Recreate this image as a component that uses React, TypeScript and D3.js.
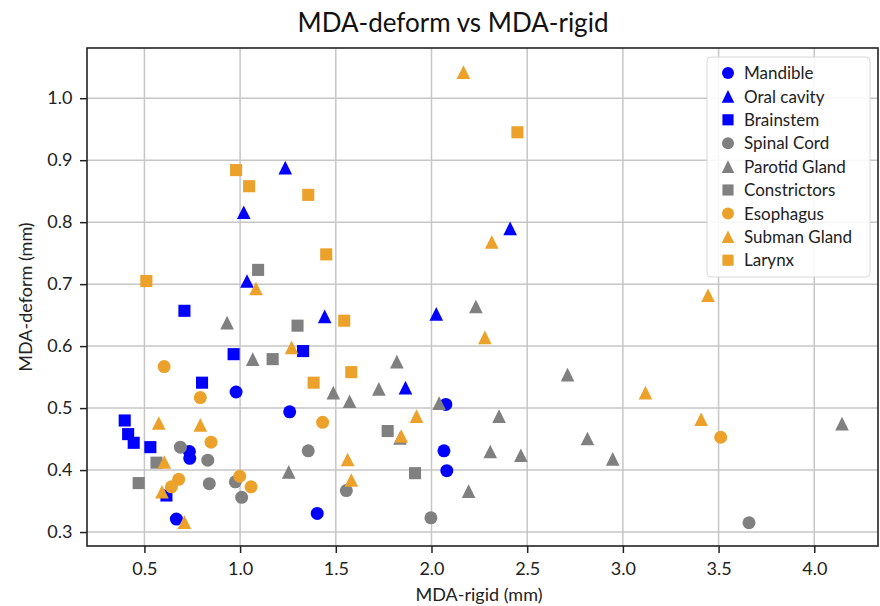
import React, { useEffect, useRef } from "react";
import * as d3 from "d3";

// [MDA-rigid, MDA-deform] pairs per structure
const mandible = [[0.979, 0.526], [1.259, 0.494], [0.735, 0.43], [0.737, 0.419], [0.667, 0.321], [1.403, 0.33], [2.075, 0.506], [2.065, 0.431], [2.08, 0.399]];
const oralCavity = [[1.236, 0.888], [1.019, 0.816], [1.036, 0.705], [1.442, 0.648], [2.411, 0.79], [2.025, 0.652], [1.864, 0.533]];
const brainstem = [[0.709, 0.657], [1.329, 0.592], [0.966, 0.587], [0.801, 0.541], [0.397, 0.48], [0.415, 0.458], [0.444, 0.444], [0.531, 0.437], [0.615, 0.359]];
const spinalCord = [[0.688, 0.437], [0.831, 0.416], [1.356, 0.431], [0.975, 0.381], [0.839, 0.378], [1.008, 0.356], [1.555, 0.367], [1.997, 0.323], [3.659, 0.315]];
const parotid = [[0.932, 0.638], [1.066, 0.579], [1.487, 0.525], [1.572, 0.511], [1.254, 0.397], [2.232, 0.664], [1.819, 0.575], [2.711, 0.554], [1.725, 0.531], [2.04, 0.508], [2.353, 0.487], [1.836, 0.452], [2.815, 0.451], [2.307, 0.43], [2.467, 0.424], [2.947, 0.418], [2.194, 0.366], [4.145, 0.475]];
const constrictors = [[1.094, 0.723], [1.3, 0.633], [1.17, 0.579], [0.563, 0.412], [0.47, 0.379], [1.771, 0.463], [1.914, 0.395]];
const esophagus = [[0.603, 0.567], [0.792, 0.517], [1.431, 0.477], [0.848, 0.445], [0.998, 0.39], [1.057, 0.373], [0.679, 0.385], [0.641, 0.373], [3.511, 0.453]];
const submanGland = [[1.083, 0.693], [1.269, 0.598], [0.575, 0.476], [0.792, 0.473], [0.604, 0.413], [1.562, 0.417], [0.592, 0.365], [1.581, 0.384], [0.709, 0.316], [2.167, 1.042], [2.315, 0.768], [2.279, 0.614], [1.922, 0.487], [1.842, 0.455], [3.445, 0.682], [3.118, 0.525], [3.409, 0.482]];
const larynx = [[0.979, 0.884], [1.047, 0.858], [1.356, 0.844], [1.45, 0.748], [0.51, 0.705], [1.544, 0.641], [1.581, 0.558], [1.384, 0.541], [2.449, 0.945]];

const xTicks = [0.5, 1.0, 1.5, 2.0, 2.5, 3.0, 3.5, 4.0];
const yTicks = [0.3, 0.4, 0.5, 0.6, 0.7, 0.8, 0.9, 1.0];

const BLUE = "#0000ff";
const GRAY = "#808080";
const ORANGE = "#eba12a";

const series = [
  { name: "Mandible", data: mandible, color: BLUE, shape: "circle" },
  { name: "Oral cavity", data: oralCavity, color: BLUE, shape: "triangle" },
  { name: "Brainstem", data: brainstem, color: BLUE, shape: "square" },
  { name: "Spinal Cord", data: spinalCord, color: GRAY, shape: "circle" },
  { name: "Parotid Gland", data: parotid, color: GRAY, shape: "triangle" },
  { name: "Constrictors", data: constrictors, color: GRAY, shape: "square" },
  { name: "Esophagus", data: esophagus, color: ORANGE, shape: "circle" },
  { name: "Subman Gland", data: submanGland, color: ORANGE, shape: "triangle" },
  { name: "Larynx", data: larynx, color: ORANGE, shape: "square" },
];

// marker path centred on its bounding box (like matplotlib)
function markerPath(shape: string, s: number) {
  if (shape === "circle") {
    return `M${s},0A${s},${s},0,1,1,${-s},0A${s},${s},0,1,1,${s},0Z`;
  }
  if (shape === "triangle") {
    const h = s * 1.05;
    return `M0,${-h}L${h},${h}L${-h},${h}Z`;
  }
  const q = s * 0.93;
  return `M${-q},${-q}H${q}V${q}H${-q}Z`;
}

export default function App() {
  const svgRef = useRef<SVGSVGElement>(null);

  useEffect(() => {
    const svg = d3.select(svgRef.current);
    svg.selectAll("*").remove();

    const font = "Lato, 'Open Sans', sans-serif";
    const left = 87, right = 878, top = 48, bottom = 546;

    const x = d3.scaleLinear().domain([0.2, 4.333]).range([left, right]);
    const y = d3.scaleLinear().domain([0.2775, 1.081]).range([bottom, top]);

    svg.append("rect").attr("width", 880).attr("height", 606).attr("fill", "#fff");

    // grid
    const grid = svg.append("g").attr("stroke", "#c6c6c6").attr("stroke-width", 1.5);
    grid.selectAll(".gx").data(xTicks).join("line")
      .attr("x1", (d) => x(d)).attr("x2", (d) => x(d))
      .attr("y1", top).attr("y2", bottom);
    grid.selectAll(".gy").data(yTicks).join("line")
      .attr("x1", left).attr("x2", right)
      .attr("y1", (d) => y(d)).attr("y2", (d) => y(d));

    // points
    series.forEach((s) => {
      svg.append("g").selectAll("path").data(s.data).join("path")
        .attr("transform", (d) => `translate(${x(d[0])},${y(d[1])})`)
        .attr("d", markerPath(s.shape, 6.5))
        .attr("fill", s.color);
    });

    // axes
    const xAxis = svg.append("g").attr("transform", `translate(0,${bottom})`)
      .call(d3.axisBottom(x).tickValues(xTicks).tickFormat(d3.format(".1f")).tickSize(7).tickSizeOuter(0));
    const yAxis = svg.append("g").attr("transform", `translate(${left},0)`)
      .call(d3.axisLeft(y).tickValues(yTicks).tickFormat(d3.format(".1f")).tickSize(7).tickSizeOuter(0));
    [xAxis, yAxis].forEach((a) => {
      a.select(".domain").remove();
      a.selectAll("line").attr("stroke", "#222").attr("stroke-width", 1.5);
      a.selectAll("text").attr("font-family", font).attr("font-size", 18).attr("fill", "#222");
    });
    xAxis.selectAll("text").attr("dy", "1.05em");
    yAxis.selectAll("text").attr("dx", "-0.25em");

    // frame
    svg.append("rect").attr("x", left).attr("y", top)
      .attr("width", right - left).attr("height", bottom - top)
      .attr("fill", "none").attr("stroke", "#222").attr("stroke-width", 1.6);

    // titles
    svg.append("text").attr("x", 453).attr("y", 32)
      .attr("text-anchor", "middle").attr("font-family", font).attr("font-size", 26)
      .attr("fill", "#111").text("MDA-deform vs MDA-rigid");
    svg.append("text").attr("x", 479).attr("y", 601)
      .attr("text-anchor", "middle").attr("font-family", font).attr("font-size", 18)
      .attr("fill", "#222").text("MDA-rigid (mm)");
    svg.append("text").attr("transform", `translate(32,${(top + bottom) / 2}) rotate(-90)`)
      .attr("text-anchor", "middle").attr("font-family", font).attr("font-size", 18)
      .attr("fill", "#222").text("MDA-deform (mm)");

    // legend
    const lg = svg.append("g").attr("transform", "translate(707,57)");
    lg.append("rect").attr("width", 163).attr("height", 220).attr("rx", 4)
      .attr("fill", "#fff").attr("fill-opacity", 0.85)
      .attr("stroke", "#d8d8d8").attr("stroke-width", 1);
    const items = lg.selectAll(".item").data(series).join("g")
      .attr("transform", (d, i) => `translate(21,${16 + i * 23.4})`);
    items.append("path").attr("d", (d) => markerPath(d.shape, 6)).attr("fill", (d) => d.color);
    items.append("text").attr("x", 16).attr("dy", "0.36em")
      .attr("font-family", font).attr("font-size", 17).attr("fill", "#222")
      .text((d) => d.name);
  }, []);

  return (
    <svg ref={svgRef} width={880} height={606}
      style={{ position: "absolute", left: 0, top: 0, display: "block" }} />
  );
}
